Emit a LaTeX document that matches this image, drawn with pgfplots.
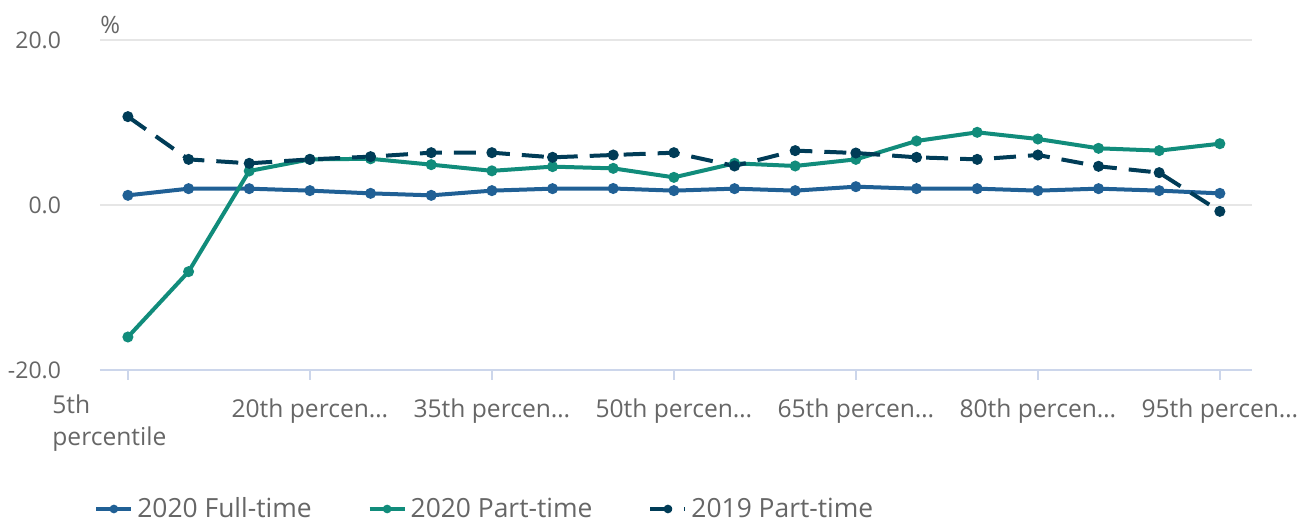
\documentclass[border=0pt]{standalone}
\usepackage{pgfplots}
\pgfplotsset{compat=1.18}
\usepackage{fontspec}
\setmainfont{Open Sans}
\definecolor{ftblue}{HTML}{206095}
\definecolor{ptgreen}{HTML}{118C7B}
\definecolor{ptdark}{HTML}{003C57}
\definecolor{txt}{HTML}{666666}
\definecolor{gridc}{HTML}{E6E6E6}
\definecolor{axisc}{HTML}{CCD6EB}
\begin{document}
\begin{tikzpicture}[x=1pt,y=1pt]
\useasboundingbox (0,0) rectangle (651,261.5);
\begin{axis}[
  at={(50pt,76.5pt)}, anchor=south west,
  scale only axis, width=576pt, height=165pt,
  xmin=-0.46, xmax=18.53, ymin=-20, ymax=20,
  axis line style={draw=none},
  axis x line*=bottom, axis y line*=left,
  ytick={-20,0,20}, yticklabels={-20.0,0.0,20.0},
  ymajorgrids, grid style={gridc, line width=1pt},
  ytick style={draw=none},
  xtick={0,3,6,9,12,15,18},
  xticklabels={,20th percen…,35th percen…,50th percen…,65th percen…,80th percen…,95th percen…},
  xtick style={axisc, line width=0.8pt},
  major tick length=5pt, tick align=outside,
  yticklabel style={anchor=east, xshift=-11pt, font=\fontsize{11.5}{13}\selectfont, text=txt},
  xticklabel style={anchor=north, yshift=-6pt, font=\fontsize{12.3}{14}\selectfont, text=txt},
  every axis plot/.append style={line width=2pt, mark=*, mark size=1.7pt},
  legend columns=3,
  legend style={at={(rel axis cs:0,0)}, anchor=west, xshift=-6pt, yshift=-69.5pt,
    draw=none, fill=none, font=\fontsize{13.2}{14}\selectfont, text=txt,
    /tikz/every even column/.append style={column sep=26pt}},
  legend cell align=left,
  legend image code/.code={\draw[#1, mark repeat=2, mark phase=2, mark size=1.1pt] plot coordinates {(0pt,0pt) (8.75pt,0pt) (17.5pt,0pt)};},
  clip=false,
]
\draw[axisc, line width=1pt] (rel axis cs:0,0) -- (rel axis cs:1,0);
\addplot[ftblue, mark options={solid}] coordinates {
(0,1.17) (1,1.98) (2,1.98) (3,1.74) (4,1.41) (5,1.17) (6,1.74) (7,1.98) (8,2.0) (9,1.74)
(10,1.98) (11,1.74) (12,2.22) (13,1.98) (14,1.98) (15,1.74) (16,1.98) (17,1.74) (18,1.41)};
\addlegendentry{2020 Full-time}
\addplot[ptgreen, mark options={solid}] coordinates {
(0,-16.0) (1,-8.08) (2,4.12) (3,5.53) (4,5.6) (5,4.89) (6,4.14) (7,4.65) (8,4.44) (9,3.35)
(10,5.05) (11,4.73) (12,5.53) (13,7.76) (14,8.81) (15,8.0) (16,6.87) (17,6.59) (18,7.43)};
\addlegendentry{2020 Part-time}
\addplot[ptdark, dash pattern=on 11pt off 6pt, mark options={solid}] coordinates {
(0,10.71) (1,5.53) (2,5.05) (3,5.53) (4,5.86) (5,6.34) (6,6.34) (7,5.78) (8,6.06) (9,6.34)
(10,4.73) (11,6.59) (12,6.3) (13,5.78) (14,5.53) (15,6.06) (16,4.69) (17,3.92) (18,-0.77)};
\addlegendentry{2019 Part-time}
\node[anchor=south west, inner sep=0pt, text=txt, font=\fontsize{12}{13}\selectfont] at (rel axis cs:0,1) [yshift=3pt] {\%};
\node[anchor=north west, inner sep=0pt, align=left, text=txt, font=\fontsize{12.3}{16}\selectfont] at (rel axis cs:0,0) [xshift=-24pt, yshift=-12pt] {5th\\percentile};
\end{axis}
\end{tikzpicture}
\end{document}
